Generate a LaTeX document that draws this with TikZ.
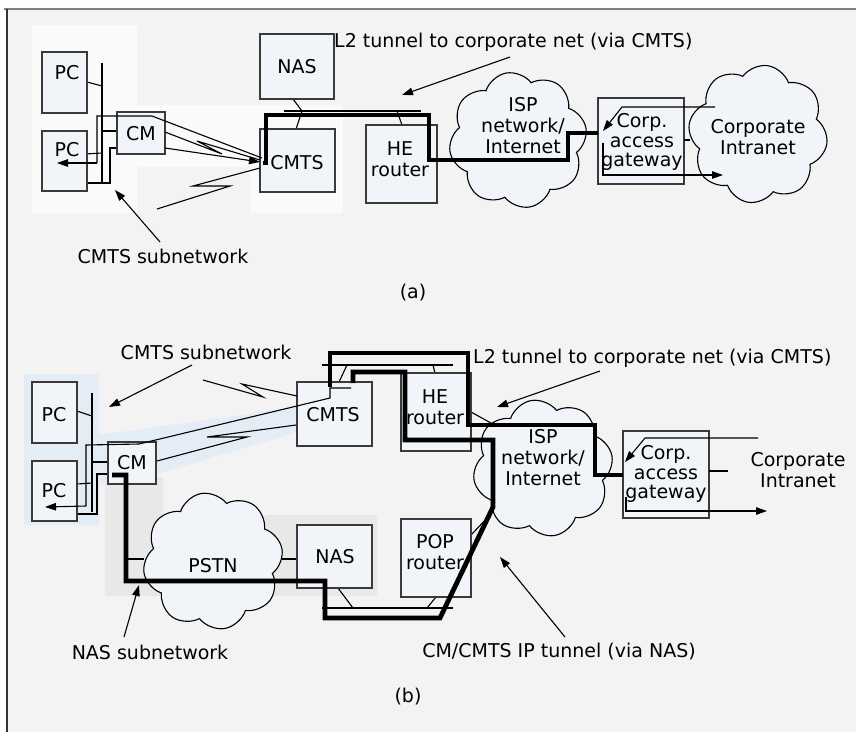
\documentclass[tikz,border=0pt]{standalone}
\usepackage{fontspec}
\setmainfont{DejaVu Sans}
\usetikzlibrary{shapes.symbols,arrows.meta}

\definecolor{panelbg}{HTML}{F3F3F3}
\definecolor{boxfill}{HTML}{F1F5FA}
\definecolor{boxedge}{HTML}{3A3A3A}
\definecolor{cmtsshade}{HTML}{FAFAFA}
\definecolor{blueshade}{HTML}{E4EDF6}
\definecolor{grayshade}{HTML}{E8E8E8}
\definecolor{frameline}{HTML}{808080}

% device box given by its corner coordinates
\newcommand{\devbox}[5]{%
  \node[box, minimum width={(#4-#2)*1pt}, minimum height={(#5-#3)*1pt}]
    (#1) at ({(#2+#4)/2},{(#3+#5)/2}) {};}

\begin{document}
\begin{tikzpicture}[x=1pt,y=-1pt,
  box/.style={draw=boxedge, fill=boxfill, line width=1.1pt, inner sep=0pt, rectangle},
  netcloud/.style={cloud, cloud puffs=8, cloud puff arc=125, draw=black,
    fill=boxfill, line width=1.1pt, inner sep=0pt, aspect=1},
  lbl/.style={font=\fontsize{19}{21}\selectfont, inner sep=0pt, align=center},
  gwlbl/.style={font=\fontsize{19}{19.5}\selectfont, inner sep=0pt, align=center},
  wire/.style={line width=1.1pt, line join=miter},
  tunnel/.style={line width=4.8pt, line join=miter},
  pointer/.style={line width=1.1pt, -{Triangle[length=11pt,width=7.5pt]}},
]
\useasboundingbox (0,0) rectangle (856,732);

% page and panel frame
\fill[white] (0,0) rectangle (856,732);
\fill[panelbg] (7,9) rectangle (856,732);
\draw[frameline, line width=2pt] (4,9) -- (856,9);
\draw[black!80, line width=1.2pt] (7,9) -- (7,732);

% ---------------- (a) ----------------
% CMTS subnetwork area
\fill[cmtsshade] (32,25) -- (137,25) -- (137,105) -- (343,105) -- (343,213)
  -- (250,213) -- (250,167) -- (137,167) -- (137,213) -- (32,213) -- cycle;

% home LAN
\draw[wire] (102,63) -- (102,183);
\draw[wire] (87,82) -- (102,86);
\draw[wire] (85,154) -- (102,153);
\draw[wire] (102,131) -- (117,131);
\draw[wire] (70,183) -- (110,183) -- (110,148) -- (117,148);

% head-end LAN
\draw[wire] (284,111) -- (421,111);
\draw[wire] (293,99) -- (302,111) -- (296,129);
\draw[wire] (397,111) -- (402,125);

\devbox{pcA1}{42}{52}{87}{113}
\devbox{pcA2}{42}{131}{87}{191}
\devbox{cmA}{117}{112}{165}{154}
\devbox{nasA}{260}{34}{334}{99}
\devbox{cmtsA}{260}{129}{335}{192}
\devbox{heA}{366}{125}{437}{203}
\devbox{gwA}{598}{98}{684}{184}

\node[netcloud, minimum width=138pt, minimum height=136pt, rotate=10] (ispA) at (518,140) {};
\node[netcloud, minimum width=139pt, minimum height=138pt, rotate=-8] (corpA) at (758,134) {};

% cable links between CM and CMTS
\draw[wire] (262,158) -- (152,116) -- (97,116) -- (97,163);
\draw[pointer] (97,163) -- (57,163);
\draw[pointer] (165,148) -- (260,162);
\draw[wire] (165,132) -- (222,154) -- (197,141) -- (260,160);
\draw[wire] (260,168) -- (193,186) -- (230,186) -- (157,209);

% gateway internals
\draw[pointer] (715,107) -- (622,107) -- (603,131);
\draw[wire] (684,140) -- (690,140);
\draw[pointer] (603,143) -- (603,175) -- (723,175);

% L2 tunnel
\draw[tunnel] (263,163) -- (266,163) -- (266,115) -- (429,115) -- (429,160)
  -- (568,160) -- (568,133) -- (598,133);

\node[lbl] (tpcA1) at (67,73) {PC};
\node[lbl] (tpcA2) at (67,150) {PC};
\node[lbl] (tcmA) at (141,134) {CM};
\node[lbl] (tnasA) at (297,67) {NAS};
\node[lbl] (tcmtsA) at (297,163) {CMTS};
\node[lbl] (theA) at (400,159.5) {HE\\router};
\node[lbl] (tispA) at (523,126) {ISP\\network/\\Internet};
\node[gwlbl] (tgwA) at (642,142) {Corp.\\access\\gateway};
\node[lbl] (tcorpA) at (758,137.5) {Corporate\\Intranet};
\node[lbl, anchor=west] (l2A) at (334,42) {L2 tunnel to corporate net (via CMTS)};
\node[lbl] (subA) at (163,256) {CMTS subnetwork};
\node[lbl] (capA) at (413,293) {(a)};

\draw[pointer] (510,57) -- (402,95);
\draw[pointer] (160,242) -- (115,190);

% ---------------- (b) ----------------
% subnetwork areas
\fill[blueshade] (24,374) -- (99,374) -- (99,435) -- (297,407) -- (297,432)
  -- (157,474) -- (108,484) -- (99,484) -- (99,525) -- (24,525) -- cycle;
\fill[grayshade] (105,477) -- (163,477) -- (163,515) -- (377,515) -- (377,596)
  -- (105,596) -- cycle;

% home LAN
\draw[wire] (92,393) -- (92,512);
\draw[wire] (77,411) -- (92,416);
\draw[wire] (77,484) -- (92,483);
\draw[wire] (92,462) -- (108,462);
\draw[wire] (60,514) -- (97,514) -- (97,474) -- (108,474);

% head-end and POP LANs
\draw[wire] (322,365) -- (453,365);
\draw[wire] (347,365) -- (339,382);
\draw[wire] (433,365) -- (435,373);
\draw[wire] (471,412) -- (500,428);
\draw[wire] (471,535) -- (490,515);
\draw[wire] (322,608) -- (453,608);
\draw[wire] (338,588) -- (353,608);
\draw[wire] (436,597) -- (427,608);
\draw[wire] (127,559) -- (144,559);
\draw[wire] (282,559) -- (297,559);

\devbox{pcB1}{32}{382}{77}{443}
\devbox{pcB2}{32}{461}{77}{521}
\devbox{cmB}{108}{442}{156}{484}
\devbox{cmtsB}{297}{382}{372}{446}
\devbox{heB}{401}{373}{471}{451}
\devbox{nasB}{297}{525}{372}{588}
\devbox{popB}{401}{519}{471}{597}
\devbox{gwB}{623}{431}{709}{518}

\node[netcloud, minimum width=140pt, minimum height=137pt, rotate=10] (ispB) at (543,468) {};
\node[netcloud, minimum width=140pt, minimum height=137pt, rotate=10] (pstn) at (213,561) {};

% cable links between CM and CMTS
\draw[wire] (351,388) -- (330,388) -- (330,398) -- (139,444) -- (86,445) -- (86,506);
\draw[pointer] (86,506) -- (45,507);
\draw[wire] (297,396) -- (242,384) -- (263,397) -- (203,380);
\draw[wire] (157,461) -- (247,437) -- (207,437) -- (296,425);

% gateway internals
\draw[pointer] (758,438) -- (645,438) -- (625,462);
\draw[wire] (709,471) -- (728,471);
\draw[pointer] (626,497) -- (626,511) -- (767,511);

% tunnels
\draw[tunnel] (330,387) -- (330,353) -- (468,353) -- (468,425) -- (595,425)
  -- (595,475) -- (623,475);
\draw[tunnel] (112,475) -- (126,475) -- (126,581) -- (325,581) -- (325,618)
  -- (440,618) -- (493,507) -- (493,440) -- (405,440) -- (405,372)
  -- (353,372) -- (353,383);

\node[lbl] (tpcB1) at (54,415) {PC};
\node[lbl] (tpcB2) at (54,491) {PC};
\node[lbl] (tcmB) at (132,463) {CM};
\node[lbl] (tcmtsB) at (333,415) {CMTS};
\node[lbl] (theB) at (435,407) {HE\\router};
\node[lbl] (tnasB) at (335,557) {NAS};
\node[lbl] (tpopB) at (435,552) {POP\\router};
\node[lbl] (tispB) at (543,458) {ISP\\network/\\Internet};
\node[gwlbl] (tgwB) at (666,474) {Corp.\\access\\gateway};
\node[lbl] (tcorpB) at (798,470) {Corporate\\Intranet};
\node[lbl] (tpstn) at (213,566) {PSTN};
\node[lbl, anchor=west] (l2B) at (473,358) {L2 tunnel to corporate net (via CMTS)};
\node[lbl] (subB) at (206,352) {CMTS subnetwork};
\node[lbl] (nassub) at (150,652) {NAS subnetwork};
\node[lbl] (iptun) at (559,652) {CM/CMTS IP tunnel (via NAS)};
\node[lbl] (capB) at (408,697) {(b)};

\draw[pointer] (600,371) -- (497,407);
\draw[pointer] (192,365) -- (109,407);
\draw[pointer] (124,637) -- (139,585);
\draw[pointer] (565,637) -- (500,557);
\end{tikzpicture}
\end{document}
